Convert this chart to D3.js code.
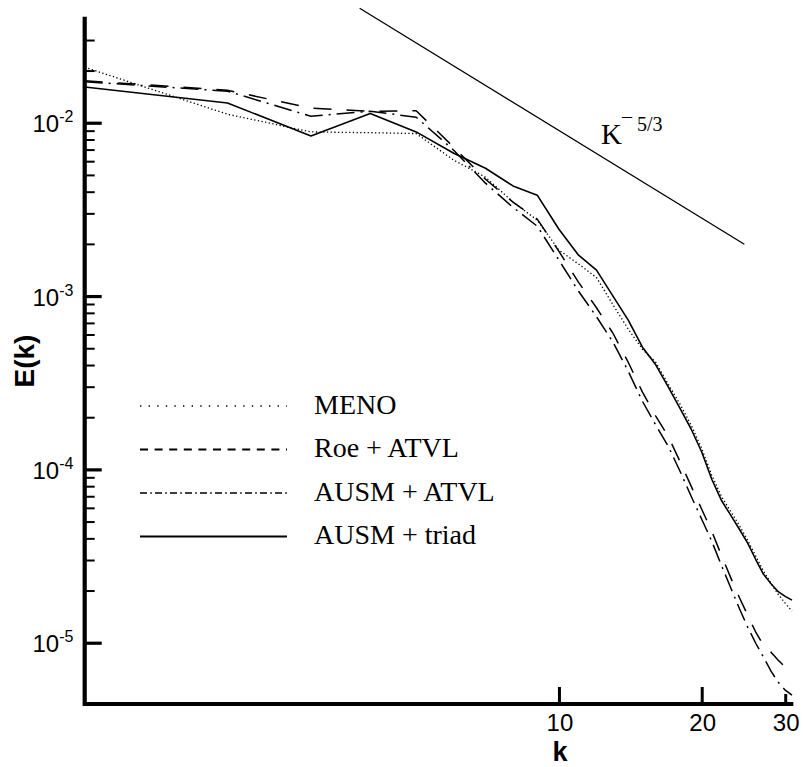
<!DOCTYPE html>
<html><head><meta charset="utf-8">
<script src="https://cdn.jsdelivr.net/npm/d3@7/dist/d3.min.js"></script>
<style>body{margin:0;background:#fff} svg{display:block}</style>
</head><body>
<svg id="c" width="803" height="767"></svg>
<script>
// ---------- data ----------
const k = [1,2,3,4,5,6,7,8,9,10,11,12,13,14,15,16,17,18,19,20,21,22,23,24,25,26,27,28,29,30,31];
const meno = [0.0209,0.0112,0.00885,0.00876,0.00866,0.00608,0.00485,0.00349,0.00274,0.00184,
  0.00153,0.00128,0.000891,0.000644,0.000493,0.000415,0.000310,0.000238,0.000180,0.000132,
  9.25e-5,7.00e-5,5.74e-5,4.76e-5,3.90e-5,3.16e-5,2.59e-5,2.20e-5,1.90e-5,1.69e-5,1.52e-5];
const roeAtvl = [0.01747,0.01540,0.01213,0.01165,0.01173,0.00722,0.00472,0.00348,0.00278,0.00181,
  0.00120,0.000856,0.000610,0.000415,0.000279,0.000203,0.000155,0.000111,8.0e-5,5.89e-5,
  4.40e-5,3.20e-5,2.39e-5,1.83e-5,1.44e-5,1.15e-5,9.67e-6,8.82e-6,7.93e-6,7.22e-6,6.67e-6];
const ausmAtvl = [0.01724,0.01520,0.01090,0.01165,0.01076,0.00694,0.00448,0.00325,0.00253,0.00161,
  0.001066,0.000760,0.000542,0.000368,0.000247,0.000180,0.000136,9.76e-5,7.00e-5,5.16e-5,
  3.85e-5,2.80e-5,2.09e-5,1.58e-5,1.23e-5,9.93e-6,8.25e-6,6.85e-6,5.92e-6,5.32e-6,4.98e-6];
const ausmTriad = [0.01609,0.01300,0.00839,0.01130,0.00885,0.00667,0.00546,0.00432,0.00382,0.00243,
  0.00172,0.00141,0.00100,0.000727,0.000507,0.000401,0.000299,0.000225,0.000171,0.000126,
  8.77e-5,6.64e-5,5.46e-5,4.53e-5,3.75e-5,3.02e-5,2.48e-5,2.19e-5,1.97e-5,1.85e-5,1.76e-5];
const refK = [3.8, 24.6];
const refE = [0.0458, 0.00199];
const seriesNames = ["MENO", "Roe + ATVL", "AUSM + ATVL", "AUSM + triad"];
const xDomain = [1, 31.2];
const yDomain = [4.43e-6, 0.0409];
const xTickValues = [10, 20, 30];
const xTickLabels = ["10", "20", "30"];
const yMajorTicks = [1e-5, 1e-4, 1e-3, 1e-2];
const yTickExponents = ["-5", "-4", "-3", "-2"];
const yMinorMultipliers = [2,3,4,5,6,7,8,9];
const yMinorDecades = [-5,-4,-3,-2];

// ---------- setup ----------
const svg = d3.select("#c");
const X0 = 84.7, X1 = 793.3, Y0 = 704, Y1 = 16.7;
const x = d3.scaleLog().domain(xDomain).range([X0, X1]);
const y = d3.scaleLog().domain(yDomain).range([Y0, Y1]);
const sans = "'Liberation Sans', Arial, Helvetica, sans-serif";
const serif = "'Liberation Serif', 'Times New Roman', serif";

// styles for plot and legend
const styles = [
  {plot: "1.3,2.4", legend: "1.4,7.2", w: 1.3, lw: 1.4},
  {plot: "18,15", legend: "8,6.6", w: 1.5, lw: 2},
  {plot: "18,6,2,6", legend: "7,3.2,1.6,3.2", w: 1.5, lw: 1.6},
  {plot: null, legend: null, w: 1.6, lw: 2}
];
const series = [meno, roeAtvl, ausmAtvl, ausmTriad];

// ---------- lines ----------
const line = d3.line().x(d => x(d[0])).y(d => y(d[1]));
series.forEach((s, i) => {
  svg.append("path")
    .attr("d", line(k.map((kk, j) => [kk, s[j]])))
    .attr("fill", "none").attr("stroke", "#000")
    .attr("stroke-width", styles[i].w)
    .attr("stroke-dasharray", styles[i].plot)
    .attr("stroke-linejoin", "round");
});

// reference slope line
svg.append("path")
  .attr("d", line(refK.map((kk, j) => [kk, refE[j]])))
  .attr("fill", "none").attr("stroke", "#000").attr("stroke-width", 1.3);

// K^-5/3 label
svg.append("text").attr("x", 601).attr("y", 144)
  .attr("font-family", serif).attr("font-size", 29).text("K");
svg.append("text").attr("x", 622).attr("y", 122.5)
  .attr("font-family", serif).attr("font-size", 20).text("\u2013");
svg.append("text").attr("x", 637).attr("y", 131)
  .attr("font-family", serif).attr("font-size", 20).text("5/3");

// ---------- axes ----------
const yMinor = [];
yMinorDecades.forEach(e => yMinorMultipliers.forEach(m => {
  const v = m * Math.pow(10, e);
  if (v < yDomain[1] && y(v) > 20) yMinor.push(v);
}));

const gyMinor = svg.append("g").attr("transform", `translate(${X0},0)`)
  .call(d3.axisRight(y).tickValues(yMinor).tickSize(10).tickFormat(""));
gyMinor.select(".domain").remove();
gyMinor.selectAll("line").attr("stroke", "#000").attr("stroke-width", 2);

const gyMajor = svg.append("g").attr("transform", `translate(${X0},0)`)
  .call(d3.axisRight(y).tickValues(yMajorTicks).tickSize(17).tickFormat(""));
gyMajor.select(".domain").remove();
gyMajor.selectAll("line").attr("stroke", "#000").attr("stroke-width", 3.2);

const gx = svg.append("g").attr("transform", `translate(0,${Y0})`)
  .call(d3.axisTop(x).tickValues(xTickValues).tickSize(17).tickFormat(""));
gx.select(".domain").remove();
gx.selectAll("line").attr("stroke", "#000").attr("stroke-width", 3)
  .attr("y2", d => d === xTickValues[xTickValues.length - 1] ? -10 : -17);

// axis lines
svg.append("path")
  .attr("d", `M${X0},${Y1}V${Y0}H${X1}`)
  .attr("fill", "none").attr("stroke", "#000").attr("stroke-width", 4.2)
  .attr("stroke-linejoin", "miter");

// y tick labels
yMajorTicks.forEach((v, i) => {
  const t = svg.append("text").attr("x", 32.5).attr("y", y(v) + 9.6)
    .attr("font-family", sans).attr("font-size", 24).attr("fill", "#000");
  t.append("tspan").text("10");
  t.append("tspan").attr("font-size", 16).attr("dy", -10).attr("dx", 0).text(yTickExponents[i]);
});

// x tick labels
xTickValues.forEach((v, i) => {
  svg.append("text").attr("x", x(v) + 1).attr("y", 730.5)
    .attr("text-anchor", "middle").attr("font-family", sans).attr("font-size", 24)
    .text(xTickLabels[i]);
});

// axis titles
svg.append("text").attr("x", 560).attr("y", 760.5)
  .attr("text-anchor", "middle").attr("font-family", sans).attr("font-weight", "bold")
  .attr("font-size", 27).text("k");
svg.append("text").attr("transform", "translate(33.5,361) rotate(-90)")
  .attr("text-anchor", "middle").attr("font-family", sans).attr("font-weight", "bold")
  .attr("font-size", 28).text("E(k)");

// ---------- legend ----------
const legY = [406, 449.5, 493, 536.5];
seriesNames.forEach((name, i) => {
  svg.append("line").attr("x1", 140).attr("x2", 287)
    .attr("y1", legY[i]).attr("y2", legY[i])
    .attr("stroke", "#000").attr("stroke-width", styles[i].lw)
    .attr("stroke-dasharray", styles[i].legend);
  svg.append("text").attr("x", 314).attr("y", legY[i] + 7.5)
    .attr("font-family", serif).attr("font-size", 28).text(name);
});
</script>
</body></html>
